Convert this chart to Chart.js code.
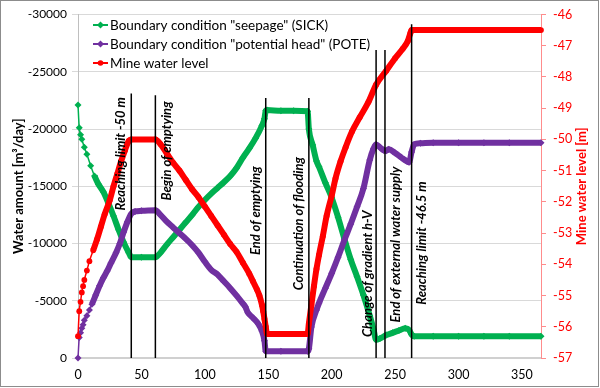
<!DOCTYPE html>
<html>
<head>
<meta charset="utf-8">
<script src="https://cdn.jsdelivr.net/npm/chart.js@4.4.1/dist/chart.umd.min.js"></script>
<style>
  html, body { margin: 0; padding: 0; background: #fff; }
  #wrap { width: 600px; height: 388px; }
</style>
</head>
<body>
<div id="wrap"><canvas id="chart" width="600" height="388"></canvas></div>
<script>
// Boundary condition "seepage" (SICK) - water amount, left axis
var seepageDays = [0, 1, 2, 3, 5, 7, 10, 13, 16, 20, 24, 28, 32, 36, 40, 42, 50, 61,
    65, 70, 75, 80, 85, 90, 95, 100, 105, 110, 115, 120, 125, 130, 135, 140, 145, 147,
    148, 149, 160, 170, 181, 182, 185, 188, 190, 195, 200, 205, 210, 215, 220, 225, 230,
    233, 235, 238, 243, 248, 253, 258, 261, 263, 265, 280, 300, 320, 340, 365];
var seepageValues = [-22100, -20100, -19500, -19100, -18400, -17800, -16800, -15900, -15200, -14500, -13500, -12400, -11200, -10100, -9200, -8800, -8800, -8800,
    -9200, -9900, -10550, -11200, -11850, -12500, -13200, -13800, -14350, -14850, -15350, -15900, -16600, -17500, -18300, -19200, -20300, -20900,
    -21600, -21650, -21600, -21600, -21550, -20000, -18600, -17200, -16700, -15300, -14000, -12300, -10400, -8600, -7100, -5500, -3700,
    -2500, -1600, -1700, -2000, -2200, -2400, -2600, -2450, -2050, -1900, -1900, -1900, -1900, -1900, -1900];

// Boundary condition "potential head" (POTE) - water amount, left axis
var potentialDays = [0, 1, 2, 3, 4, 5, 7, 9, 11, 14, 17, 20, 23, 26, 30, 33, 36, 39, 42, 45, 50, 61,
    65, 70, 75, 80, 85, 90, 95, 100, 105, 110, 115, 120, 125, 130, 132, 134, 138, 142, 145, 147,
    148, 160, 181, 182, 184, 188, 190, 195, 200, 205, 210, 215, 220, 225, 230, 233, 235,
    238, 241, 243, 245, 250, 255, 259, 261, 263, 265, 270, 280, 300, 320, 340, 365];
var potentialValues = [0, -1800, -2200, -2600, -2900, -3300, -3700, -4200, -4700, -5500, -6300, -7000, -7600, -8300, -9200, -10000, -11000, -11900, -12600, -12800, -12850, -12900,
    -12500, -11900, -11400, -10900, -10400, -9850, -9200, -8400, -7700, -7300, -6700, -6100, -5450, -4750, -4450, -3950, -3500, -3000, -2350, -1500,
    -600, -600, -600, -800, -2700, -4200, -4800, -6100, -7400, -8800, -10300, -11700, -13200, -14800, -17300, -18300, -18650,
    -18400, -18150, -18100, -18230, -17900, -17500, -17200, -17100, -18000, -18650, -18750, -18800, -18800, -18800, -18800, -18800];

// Mine water level [m] - right axis
var levelDays = [0, 1, 2, 3, 4, 5, 7, 9, 12, 15, 18, 21, 25, 28, 31, 34, 37, 40, 42, 61,
    65, 70, 75, 80, 85, 90, 95, 100, 105, 110, 115, 120, 125, 130, 135, 138, 141, 143, 145, 146, 147, 148, 149,
    181, 182, 184, 186, 188, 190, 193, 196, 200, 203, 207, 211, 216, 222, 229, 235, 243, 250, 256, 260, 262, 263, 365];
var levelValues = [-56.3, -55.5, -55.2, -54.9, -54.7, -54.5, -54.2, -53.9, -53.55, -53.2, -52.8, -52.4, -51.95, -51.5, -51.1, -50.7, -50.35, -50.05, -50, -50,
    -50.15, -50.45, -50.75, -51.0, -51.3, -51.6, -51.85, -52.15, -52.45, -52.75, -53.05, -53.35, -53.6, -53.95, -54.3, -54.55, -54.8, -55.0, -55.3, -55.5, -55.75, -56.0, -56.23,
    -56.23, -55.9, -55.3, -54.7, -54.15, -53.7, -53.1, -52.45, -51.8, -51.25, -50.7, -50.25, -49.75, -49.3, -48.8, -48.25, -47.8, -47.4, -47.1, -46.85, -46.6, -46.5, -46.5];

// vertical event lines, top end in left axis units
var eventDays = [42, 61, 148, 182, 235, 242, 263];
var eventTops = [-23100, -22950, -22700, -22700, -26900, -26900, -29150];
var eventLabels = ['Reaching limit -50 m', 'Begin of emptying', 'End of emptying',
    'Continuation of flooding', 'Change of gradient h-V', 'End of external water supply',
    'Reaching limit -46.5 m'];

var seriesNames = ['Boundary condition "seepage" (SICK)', 'Boundary condition "potential head" (POTE)', 'Mine water level'];
var xTicks = [0, 50, 100, 150, 200, 250, 300, 350];

var GREEN = '#00b050', PURPLE = '#7030a0', RED = '#ff0000';
var FONT = 'Lato';

function pairs(days, values) {
    return days.map(function(d, i) { return {x: d, y: values[i]}; });
}

// thin line at the start, afterwards the dense band of daily markers
function bandWidth(ctx) {
    return ctx.p0.parsed.x < 11 ? 1.5 : 6;
}

// label placement: offset from line in px, centre in left axis units
var labelPlace = [
    {dx: -10, mid: -17830}, {dx: 11, mid: -18090}, {dx: -10, mid: -12870},
    {dx: -10, mid: -11740}, {dx: -8, mid: -7360}, {dx: 11, mid: -9910}, {dx: 10, mid: -10040}
];

var datasets = [
    {
        label: seriesNames[0], data: pairs(seepageDays, seepageValues), yAxisID: 'y',
        borderColor: GREEN, backgroundColor: GREEN, borderWidth: 6, segment: {borderWidth: bandWidth},
        pointStyle: 'rectRot', pointRadius: 3.5, pointBorderWidth: 0,
        cubicInterpolationMode: 'monotone', order: 3, clip: 8
    },
    {
        label: seriesNames[1], data: pairs(potentialDays, potentialValues), yAxisID: 'y',
        borderColor: PURPLE, backgroundColor: PURPLE, borderWidth: 6, segment: {borderWidth: bandWidth},
        pointStyle: 'rectRot', pointRadius: 3.5, pointBorderWidth: 0,
        cubicInterpolationMode: 'monotone', order: 2, clip: 8
    },
    {
        label: seriesNames[2], data: pairs(levelDays, levelValues), yAxisID: 'y2',
        borderColor: RED, backgroundColor: RED, borderWidth: 6, segment: {borderWidth: bandWidth},
        pointStyle: 'circle', pointRadius: 2.9, pointBorderWidth: 0,
        cubicInterpolationMode: 'monotone', order: 1, clip: 8
    }
];

eventDays.forEach(function(d, i) {
    datasets.push({
        label: 'event' + i, data: [{x: d, y: 0}, {x: d, y: eventTops[i]}], yAxisID: 'y',
        borderColor: '#000', borderWidth: 1.5, pointRadius: 0, order: 0, clip: false
    });
});

var decorPlugin = {
    id: 'decor',
    afterDatasetsDraw: function(chart) {
        var ctx = chart.ctx;
        var xs = chart.scales.x, ys = chart.scales.y;
        ctx.save();

        // event labels
        ctx.fillStyle = '#000';
        ctx.font = 'italic bold 13px ' + FONT;
        ctx.textAlign = 'center';
        ctx.textBaseline = 'middle';
        eventLabels.forEach(function(txt, i) {
            var px = xs.getPixelForValue(eventDays[i]) + labelPlace[i].dx;
            var py = ys.getPixelForValue(labelPlace[i].mid);
            ctx.save();
            ctx.translate(px, py);
            ctx.rotate(-Math.PI / 2);
            ctx.fillText(txt, 0, 0);
            ctx.restore();
        });

        // legend
        var colors = [GREEN, PURPLE, RED];
        var rowY = [25, 44, 63];
        ctx.font = '13.5px ' + FONT;
        ctx.textAlign = 'left';
        seriesNames.forEach(function(name, i) {
            var y = rowY[i];
            ctx.strokeStyle = colors[i];
            ctx.fillStyle = colors[i];
            ctx.lineWidth = 2;
            ctx.beginPath();
            ctx.moveTo(93, y);
            ctx.lineTo(108, y);
            ctx.stroke();
            ctx.beginPath();
            if (i < 2) {
                ctx.moveTo(100.5, y - 3.5);
                ctx.lineTo(104, y);
                ctx.lineTo(100.5, y + 3.5);
                ctx.lineTo(97, y);
                ctx.closePath();
            } else {
                ctx.arc(100.5, y, 2.8, 0, Math.PI * 2);
            }
            ctx.fill();
            ctx.fillStyle = '#000';
            ctx.fillText(name, 110, y + 1);
        });

        // right axis title (reads bottom to top)
        ctx.fillStyle = RED;
        ctx.font = 'bold 13px ' + FONT;
        ctx.textAlign = 'center';
        ctx.save();
        ctx.translate(582, (chart.chartArea.top + chart.chartArea.bottom) / 2);
        ctx.rotate(-Math.PI / 2);
        ctx.fillText('Mine water level [m]', 0, 0);
        ctx.restore();

        // chart border
        ctx.strokeStyle = '#8c8c8c';
        ctx.lineWidth = 1;
        ctx.strokeRect(0.5, 0.5, 598, 386);
        ctx.restore();
    }
};

var chart = new Chart(document.getElementById('chart'), {
    type: 'line',
    data: {datasets: datasets},
    options: {
        responsive: false,
        animation: false,
        layout: {padding: {top: 13, left: 0, right: 0, bottom: 0}},
        plugins: {
            legend: {display: false},
            tooltip: {enabled: false}
        },
        scales: {
            x: {
                type: 'linear',
                min: 0,
                max: 365,
                afterFit: function(scale) { scale.height = 30; },
                afterBuildTicks: function(scale) {
                    scale.ticks = xTicks.map(function(v) { return {value: v}; });
                },
                ticks: {padding: 9, color: '#000', font: {family: FONT, size: 12.5}, maxRotation: 0},
                grid: {display: true, drawOnChartArea: false, drawTicks: false},
                border: {color: '#d0d0d0', width: 2}
            },
            y: {
                position: 'left',
                min: -30000,
                max: 0,
                reverse: true,
                afterFit: function(scale) { scale.width = 78; },
                ticks: {
                    stepSize: 5000, padding: 5, color: '#000', font: {family: FONT, size: 12},
                    callback: function(v) { return String(v); }
                },
                grid: {color: '#d9d9d9', tickLength: 6, tickColor: '#d9d9d9'},
                border: {color: '#bfbfbf'},
                title: {
                    display: true, text: 'Water amount [m³/day]', color: '#000',
                    font: {family: FONT, size: 13, weight: 'bold'}, padding: {top: 11, bottom: 0}
                }
            },
            y2: {
                position: 'right',
                min: -57,
                max: -46,
                afterFit: function(scale) { scale.width = 59; },
                ticks: {
                    stepSize: 1, padding: 7, color: RED, font: {family: FONT, size: 12.5},
                    callback: function(v) { return String(v); }
                },
                grid: {drawOnChartArea: false, tickLength: 5, tickColor: '#ff8c8c'},
                border: {color: '#ff8c8c'}
            }
        }
    },
    plugins: [decorPlugin]
});
</script>
</body>
</html>
